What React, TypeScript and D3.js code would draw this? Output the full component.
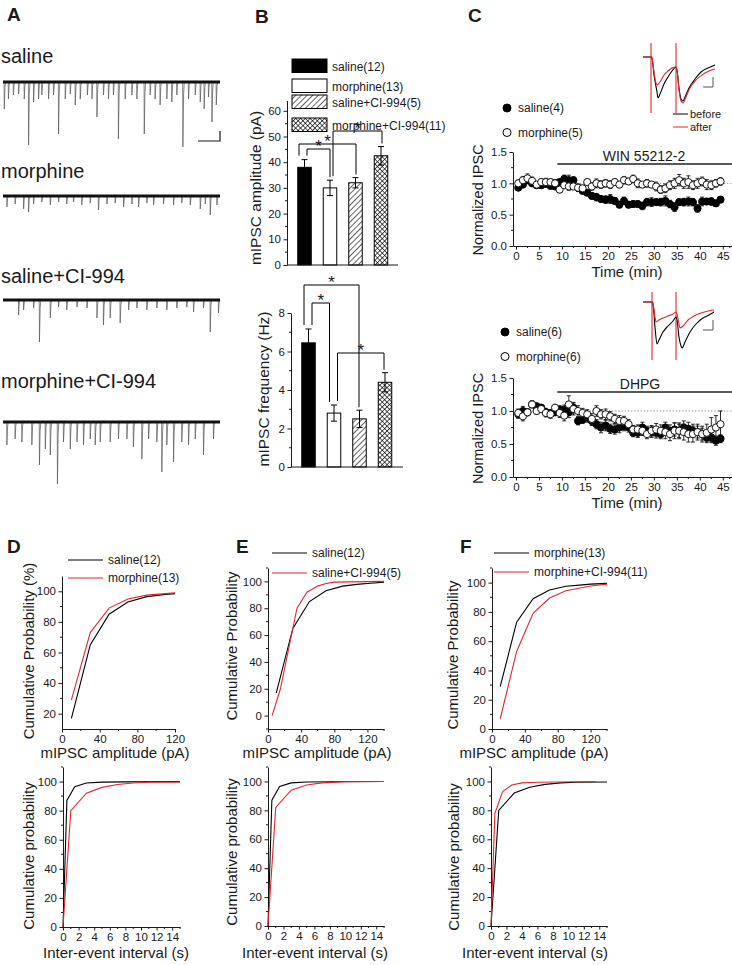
import React, { useEffect, useRef } from 'react';
import * as d3 from 'd3';

const FONT = '"Liberation Sans", Arial, Helvetica, sans-serif';
const INK = '#1a1a1a';
const RED = '#e3262d';

// ---- A: miniature events, [time (s), amplitude (pA)] ----
const traceLabels = ['saline', 'morphine', 'saline+CI-994', 'morphine+CI-994'];
const salineEvents = [
  [0.05, 54], [0.24, 34], [0.47, 26], [0.71, 24], [0.97, 34], [1.17, 126], [1.4, 40], [1.63, 34], [1.78, 26],
  [2.09, 34], [2.32, 26], [2.55, 104], [2.86, 34], [3.09, 24], [3.32, 46], [3.55, 34], [3.88, 26], [4.09, 34],
  [4.32, 70], [4.62, 26], [4.85, 34], [5.08, 26], [5.31, 114], [5.62, 34], [5.93, 26], [6.16, 34], [6.5, 104],
  [6.77, 26], [7.0, 34], [7.23, 46], [7.54, 34], [7.77, 40], [8.0, 26], [8.28, 130], [8.54, 34], [8.85, 26],
  [9.08, 40], [9.26, 54], [9.46, 30], [9.62, 80], [9.82, 46],
];
const morphineEvents = [
  [0.17, 22], [0.55, 16], [0.94, 26], [1.17, 32], [1.4, 16], [1.78, 12], [2.17, 18], [2.55, 12], [2.93, 16],
  [3.24, 12], [3.62, 18], [4.01, 14], [4.39, 28], [4.78, 16], [5.16, 14], [5.55, 22], [5.93, 16], [6.24, 22],
  [6.62, 14], [6.93, 18], [7.39, 16], [7.85, 18], [8.23, 14], [8.62, 18], [9.08, 26], [9.31, 16], [9.54, 38],
  [9.85, 18],
];
const salineCiEvents = [
  [0.71, 30], [0.94, 20], [1.4, 16], [1.67, 84], [2.17, 36], [2.55, 14], [2.93, 20], [3.4, 14], [3.86, 16],
  [4.32, 36], [4.62, 50], [4.93, 36], [5.39, 46], [5.78, 20], [6.16, 16], [6.62, 20], [7.08, 16], [7.54, 20],
  [8.0, 16], [8.46, 14], [8.77, 24], [9.23, 16], [9.54, 64], [9.92, 26],
];
const morphineCiEvents = [
  [0.17, 46], [0.55, 34], [0.86, 40], [1.32, 46], [1.67, 86], [1.94, 54], [2.17, 66], [2.5, 124], [2.78, 40],
  [3.09, 54], [3.4, 40], [3.7, 46], [4.01, 34], [4.24, 46], [4.47, 40], [4.93, 40], [5.31, 34], [5.7, 34],
  [6.0, 50], [6.39, 74], [6.7, 34], [7.08, 40], [7.31, 100], [7.54, 46], [7.85, 80], [8.23, 40], [8.54, 46],
  [8.85, 34], [9.23, 66], [9.69, 34],
];

// ---- B: group means ----
const groups = ['saline(12)', 'morphine(13)', 'saline+CI-994(5)', 'morphine+CI-994(11)'];
const ampMean = [38, 30, 32, 42.5];
const ampErr = [3, 3, 2, 3.6];
const freqMean = [6.45, 2.8, 2.5, 4.4];
const freqErr = [0.72, 0.42, 0.45, 0.5];
const ampPairs = [[0, 1], [0, 2], [1, 3]];
const freqPairs = [[0, 1], [0, 2], [1, 3]];

// ---- C: normalized IPSC time course (one point per minute) ----
const winSaline = [0.93, 0.98, 1.05, 1.0, 0.97, 0.97, 0.99, 0.96, 0.95, 1.02, 1.07, 1.05, 1.05, 0.93, 0.88, 0.85, 0.8,
  0.78, 0.75, 0.74, 0.75, 0.72, 0.66, 0.72, 0.66, 0.67, 0.67, 0.64, 0.7, 0.7, 0.7, 0.7, 0.72, 0.67, 0.62, 0.7, 0.7,
  0.71, 0.7, 0.6, 0.71, 0.71, 0.71, 0.68, 0.74];
const winSalineErr = [0.04, 0.05, 0.05, 0.04, 0.04, 0.05, 0.04, 0.05, 0.05, 0.05, 0.06, 0.08, 0.05, 0.05, 0.05, 0.04,
  0.05, 0.06, 0.05, 0.06, 0.07, 0.05, 0.05, 0.06, 0.05, 0.05, 0.05, 0.06, 0.06, 0.07, 0.05, 0.06, 0.08, 0.06, 0.07,
  0.05, 0.06, 0.07, 0.06, 0.06, 0.07, 0.05, 0.06, 0.05, 0.04];
const winMorphine = [1.0, 1.05, 1.08, 1.04, 0.98, 1.02, 1.02, 1.02, 1.0, 0.9, 0.97, 0.95, 0.95, 0.93, 0.92, 1.02, 0.95,
  1.0, 0.98, 1.0, 0.98, 1.02, 0.98, 1.05, 1.03, 1.07, 1.0, 0.98, 1.0, 0.98, 0.95, 0.9, 0.92, 0.97, 1.0, 1.05, 1.0,
  1.02, 0.97, 1.0, 1.03, 0.98, 0.97, 1.0, 1.03];
const winMorphineErr = [0.05, 0.06, 0.07, 0.06, 0.05, 0.05, 0.06, 0.05, 0.06, 0.05, 0.05, 0.06, 0.05, 0.06, 0.05, 0.05,
  0.06, 0.07, 0.06, 0.06, 0.06, 0.05, 0.05, 0.06, 0.05, 0.06, 0.07, 0.05, 0.06, 0.05, 0.07, 0.06, 0.07, 0.07, 0.08,
  0.09, 0.08, 0.1, 0.07, 0.08, 0.07, 0.08, 0.07, 0.06, 0.06];
const dhpgSaline = [0.95, 1.0, 0.98, 1.1, 1.07, 1.05, 0.98, 0.97, 0.98, 1.02, 1.02, 0.98, 1.05, 0.85, 0.87, 0.9, 0.85,
  0.8, 0.75, 0.78, 0.73, 0.72, 0.75, 0.77, 0.75, 0.67, 0.67, 0.75, 0.7, 0.68, 0.67, 0.65, 0.75, 0.7, 0.72, 0.7, 0.75,
  0.73, 0.7, 0.68, 0.65, 0.6, 0.6, 0.55, 0.58];
const dhpgSalineErr = [0.06, 0.07, 0.05, 0.05, 0.05, 0.05, 0.06, 0.05, 0.05, 0.06, 0.07, 0.08, 0.08, 0.06, 0.06, 0.07,
  0.07, 0.07, 0.08, 0.08, 0.07, 0.07, 0.08, 0.07, 0.07, 0.06, 0.07, 0.08, 0.07, 0.08, 0.08, 0.07, 0.08, 0.09, 0.1,
  0.1, 0.1, 0.1, 0.1, 0.09, 0.09, 0.08, 0.08, 0.07, 0.06];
const dhpgMorphine = [0.97, 0.92, 0.98, 1.1, 1.0, 1.03, 0.97, 0.95, 1.05, 0.97, 0.93, 1.1, 1.03, 1.0, 0.97, 0.95, 0.88,
  1.0, 0.95, 0.95, 0.92, 0.88, 0.85, 0.85, 0.8, 0.72, 0.72, 0.7, 0.65, 0.7, 0.72, 0.7, 0.68, 0.65, 0.7, 0.7, 0.68,
  0.65, 0.65, 0.68, 0.65, 0.67, 0.72, 0.75, 0.8];
const dhpgMorphineErr = [0.06, 0.07, 0.05, 0.05, 0.05, 0.05, 0.06, 0.06, 0.05, 0.07, 0.08, 0.13, 0.09, 0.08, 0.07,
  0.07, 0.08, 0.08, 0.07, 0.08, 0.07, 0.07, 0.08, 0.07, 0.07, 0.06, 0.07, 0.07, 0.07, 0.08, 0.09, 0.09, 0.1, 0.1,
  0.12, 0.12, 0.12, 0.12, 0.12, 0.12, 0.12, 0.13, 0.18, 0.18, 0.2];
const timeTicks = [0, 5, 10, 15, 20, 25, 30, 35, 40, 45];
const drugStart = 9;

// inset IPSC pairs, [time (ms), current]
const stimWin = [8, 33];
const winBefore = [[0, 0], [8, 0], [9, -1], [11, -18], [14, -35], [15, -41], [17, -37], [21, -27], [25, -20], [29, -14],
  [33, -10], [34, -13], [36, -31], [38, -42], [40, -44], [42, -40], [46, -31], [52, -22], [58, -15], [65, -11], [72, -8]];
const winAfter = [[0, 0], [8, 0], [9, -1], [11, -15], [13, -26], [14, -28], [17, -25], [21, -18], [25, -14], [29, -11],
  [33, -10], [34, -13], [36, -33], [38, -44], [40, -46], [43, -40], [47, -31], [53, -23], [59, -18], [66, -14], [72, -12]];
const stimDhpg = [9, 33];
const dhpgBefore = [[0, 0], [9, 0], [10, -2], [12, -25], [14, -42], [16, -38], [20, -30], [25, -24], [30, -19], [33, -15],
  [34, -18], [36, -35], [38, -44], [39, -46], [42, -40], [47, -30], [53, -22], [60, -16], [66, -13], [71, -10]];
const dhpgAfter = [[0, 0], [9, 0], [10, -2], [12, -15], [13, -20], [16, -18], [20, -16], [25, -14], [30, -12], [33, -10],
  [34, -12], [36, -22], [37, -26], [40, -24], [45, -18], [51, -14], [58, -11], [65, -9], [71, -8]];

// ---- D-F: cumulative distributions, [x, %] ----
const ampSaline = [[10, 17], [30, 65], [50, 85], [70, 93], [90, 96.5], [110, 98], [120, 98.5], [140, 99.5]];
const ampMorphine = [[10, 29], [30, 73], [50, 89], [70, 95], [90, 97.5], [110, 98.5], [120, 99], [140, 99.5]];
const ampSalineCi = [[5, 0], [15, 20], [25, 50], [35, 80], [47, 92], [60, 96.5], [70, 98.5], [80, 99.5], [140, 100]];
const ampMorphineCi = [[10, 7], [30, 53], [50, 79], [70, 89.5], [90, 94.5], [120, 97.7], [140, 99]];
const ieiSaline = [[0, 0], [0.5, 87], [1.5, 96.5], [3, 99], [5, 99.6], [8, 99.8], [15, 100]];
const ieiMorphine = [[0, 0], [1, 80], [3, 92], [5, 96], [7, 98], [9, 99], [11, 99.5], [15, 99.6]];
const ieiSalineCi = [[0, 0], [1, 82], [3, 94], [5, 97.5], [7, 99], [10, 99.8], [15, 100]];
const ieiMorphineCi = [[0, 0], [0.5, 78], [1.5, 93], [2.7, 97.5], [4, 99], [6, 99.5], [13.5, 100]];

function addText(g, x, y, s, size, anchor = 'start', rotate = false, weight = 'normal') {
  const t = g.append('text')
    .attr('font-family', FONT).attr('font-size', size).attr('font-weight', weight)
    .attr('fill', INK).attr('text-anchor', anchor).text(s);
  if (rotate) t.attr('transform', `translate(${x},${y}) rotate(-90)`);
  else t.attr('x', x).attr('y', y);
  return t;
}

function addAxis(g, scale, orient, pos, ticks, minor, fmt = d3.format('d')) {
  const ax = orient === 'left' ? d3.axisLeft(scale) : d3.axisBottom(scale);
  ax.tickValues(ticks).tickSizeInner(3.5).tickSizeOuter(0).tickPadding(2.5).tickFormat(fmt);
  const gg = g.append('g')
    .attr('transform', orient === 'left' ? `translate(${pos},0)` : `translate(0,${pos})`)
    .call(ax)
    .attr('font-family', FONT).attr('font-size', 11.5).attr('color', INK);
  gg.selectAll('.minor').data(minor).join('line').attr('class', 'minor').attr('stroke', INK)
    .attr('x1', (d) => (orient === 'left' ? 0 : scale(d))).attr('x2', (d) => (orient === 'left' ? -2 : scale(d)))
    .attr('y1', (d) => (orient === 'left' ? scale(d) : 0)).attr('y2', (d) => (orient === 'left' ? scale(d) : 2));
  return gg;
}

function drawTraces(svg) {
  const x = d3.scaleLinear().domain([0, 10]).range([3, 220]);
  const traces = [salineEvents, morphineEvents, salineCiEvents, morphineCiEvents];
  const baseY = [82, 196, 300, 422];
  const labelY = [63, 178, 283, 388];
  traces.forEach((ev, i) => {
    const y = d3.scaleLinear().domain([0, 100]).range([baseY[i], baseY[i] + 50]);
    addText(svg, 1, labelY[i], traceLabels[i], 20);
    const p = d3.path();
    ev.forEach(([t, a]) => {
      p.moveTo(x(t), y(0));
      p.lineTo(x(t) + 0.2, y(a));
      p.lineTo(x(t) + 0.9, y(a * 0.2));
      p.lineTo(x(t) + 1.6, y(0));
    });
    svg.append('path').attr('d', p.toString()).attr('fill', 'none').attr('stroke', '#555').attr('stroke-width', 0.7);
    svg.append('line').attr('x1', x(0)).attr('x2', x(10)).attr('y1', y(0)).attr('y2', y(0))
      .attr('stroke', '#111').attr('stroke-width', 3.2);
  });
  // scale bar
  svg.append('path').attr('d', 'M198,141H220V131').attr('fill', 'none').attr('stroke', INK).attr('stroke-width', 1.2);
}

function drawBars(svg) {
  const defs = svg.append('defs');
  const hatch = defs.append('pattern').attr('id', 'hatch').attr('width', 4).attr('height', 4)
    .attr('patternUnits', 'userSpaceOnUse').attr('patternTransform', 'rotate(45)');
  hatch.append('rect').attr('width', 4).attr('height', 4).attr('fill', '#fff');
  hatch.append('line').attr('x1', 0).attr('y1', 0).attr('x2', 0).attr('y2', 4).attr('stroke', '#000').attr('stroke-width', 1.2);
  const cross = defs.append('pattern').attr('id', 'cross').attr('width', 3.4).attr('height', 3.4)
    .attr('patternUnits', 'userSpaceOnUse').attr('patternTransform', 'rotate(45)');
  cross.append('rect').attr('width', 3.4).attr('height', 3.4).attr('fill', '#fff');
  cross.append('path').attr('d', 'M0,0V3.4M0,0H3.4').attr('stroke', '#000').attr('stroke-width', 1.3);
  const fills = ['#000', '#fff', 'url(#hatch)', 'url(#cross)'];

  // legend
  const legY = [59, 79, 95, 118];
  groups.forEach((name, i) => {
    svg.append('rect').attr('x', 292).attr('y', legY[i]).attr('width', 35).attr('height', 13.5)
      .attr('fill', fills[i]).attr('stroke', '#000').attr('stroke-width', 1);
    addText(svg, 332, legY[i] + 11.5, name, 12);
  });

  const charts = [
    { mean: ampMean, err: ampErr, pairs: ampPairs, y: d3.scaleLinear().domain([0, 64]).range([265, 100.5]),
      axisX: 287, axisEnd: 398, centers: [304.5, 381], ticks: d3.range(0, 61, 10), minor: d3.range(5, 60, 10),
      levels: [149, 144, 131], legs: [[2.5, 0], [-5.5, 0.5], [3, 1]], title: 'mIPSC amplitude (pA)', tx: 261, ty: 188 },
    { mean: freqMean, err: freqErr, pairs: freqPairs, y: d3.scaleLinear().domain([0, 8]).range([467, 313]),
      axisX: 291, axisEnd: 403, centers: [308.5, 385], ticks: [0, 2, 4, 6, 8], minor: [1, 3, 5, 7],
      levels: [303, 285, 353], legs: [[3.5, -4.5], [-4.5, -0.5], [3.5, -1]], title: 'mIPSC frequency (Hz)', tx: 269, ty: 389 },
  ];
  charts.forEach((c) => {
    const x = d3.scalePoint().domain(groups).range(c.centers);
    const g = svg.append('g');
    g.selectAll('.bar').data(c.mean).join('rect').attr('class', 'bar')
      .attr('x', (d, i) => x(groups[i]) - 6.75).attr('width', 13.5)
      .attr('y', (d) => c.y(d)).attr('height', (d) => c.y(0) - c.y(d))
      .attr('fill', (d, i) => fills[i]).attr('stroke', '#000').attr('stroke-width', 1);
    const p = d3.path();
    c.mean.forEach((m, i) => {
      const cx = x(groups[i]);
      p.moveTo(cx, c.y(m - c.err[i])); p.lineTo(cx, c.y(m + c.err[i]));
      p.moveTo(cx - 3, c.y(m + c.err[i])); p.lineTo(cx + 3, c.y(m + c.err[i]));
      p.moveTo(cx - 3, c.y(m - c.err[i])); p.lineTo(cx + 3, c.y(m - c.err[i]));
    });
    g.append('path').attr('d', p.toString()).attr('stroke', '#000').attr('stroke-width', 1).attr('fill', 'none');
    // bottom line
    g.append('line').attr('x1', c.axisX).attr('x2', c.axisEnd).attr('y1', c.y(0)).attr('y2', c.y(0)).attr('stroke', INK);
    addAxis(g, c.y, 'left', c.axisX, c.ticks, c.minor);
    addText(g, c.tx, c.ty, c.title, 15.5, 'middle', true);
    // significance brackets
    c.pairs.forEach(([a, b], k) => {
      const xa = x(groups[a]) + c.legs[k][0];
      const xb = x(groups[b]) + c.legs[k][1];
      const L = c.levels[k];
      const ya = c.y(c.mean[a] + c.err[a]) - 4;
      const yb = c.y(c.mean[b] + c.err[b]) - 3;
      g.append('path').attr('d', `M${xa},${ya}V${L}H${xb}V${yb}`).attr('fill', 'none').attr('stroke', '#000').attr('stroke-width', 1);
      addText(g, (xa + xb) / 2, L + 3, '*', 17, 'middle');
    });
  });
}

function drawInset(svg, before, after, stims, ox, oy, legend) {
  const x = d3.scaleLinear().domain([0, 72]).range([ox, ox + 72]);
  const y = d3.scaleLinear().domain([0, -60]).range([oy, oy + 60]);
  const line = d3.line().x((d) => x(d[0])).y((d) => y(d[1])).curve(d3.curveMonotoneX);
  stims.forEach((s) => {
    svg.append('line').attr('x1', x(s)).attr('x2', x(s)).attr('y1', y(legend ? 14 : 10)).attr('y2', y(legend ? -56 : -58))
      .attr('stroke', RED).attr('stroke-width', 1.1);
  });
  svg.append('path').datum(before).attr('d', line).attr('fill', 'none').attr('stroke', '#000').attr('stroke-width', 1.1);
  svg.append('path').datum(after).attr('d', line).attr('fill', 'none').attr('stroke', RED).attr('stroke-width', 1.1);
  const sb = oy + (legend ? 30 : 28);
  svg.append('path').attr('d', `M703,${sb}H713V${sb - 10}`).attr('fill', 'none').attr('stroke', '#555').attr('stroke-width', 1);
  if (legend) {
    svg.append('line').attr('x1', 673).attr('x2', 688).attr('y1', 114).attr('y2', 114).attr('stroke', '#000');
    svg.append('line').attr('x1', 673).attr('x2', 688).attr('y1', 127).attr('y2', 127).attr('stroke', RED);
    addText(svg, 690, 118, 'before', 11);
    addText(svg, 690, 131, 'after', 11);
  }
}

function drawTimeCourse(svg, cfg) {
  const x = d3.scaleLinear().domain([-0.65, 47]).range([513, 732]);
  const y = d3.scaleLinear().domain([0, 1.5]).range([cfg.y0, cfg.y15]);
  const g = svg.append('g');
  g.append('line').attr('x1', x(0)).attr('x2', 732).attr('y1', y(1)).attr('y2', y(1))
    .attr('stroke', '#888').attr('stroke-width', 1).attr('stroke-dasharray', '1.2,2');
  addAxis(g, y, 'left', 513, [0, 0.5, 1, 1.5], [0.25, 0.75, 1.25], d3.format('.1f'));
  addAxis(g, x, 'bottom', cfg.y0, timeTicks, [2.5, 7.5, 12.5, 17.5, 22.5, 27.5, 32.5, 37.5, 42.5, 46.5]);
  // drug bar
  g.append('line').attr('x1', x(drugStart)).attr('x2', 732).attr('y1', cfg.barY).attr('y2', cfg.barY)
    .attr('stroke', '#222').attr('stroke-width', 1.6);
  addText(g, cfg.drugX, cfg.barY - 3.5, cfg.drug, 14, 'middle');
  addText(g, 627, cfg.y0 + 31, 'Time (min)', 15, 'middle');
  addText(g, 483, (cfg.y0 + cfg.y15) / 2 + 1, 'Normalized IPSC', 14.5, 'middle', true);

  cfg.series.forEach((s) => {
    const p = d3.path();
    s.mean.forEach((m, i) => {
      const cx = x(i + 0.5);
      p.moveTo(cx, y(m - s.err[i])); p.lineTo(cx, y(m + s.err[i]));
      p.moveTo(cx - 2, y(m + s.err[i])); p.lineTo(cx + 2, y(m + s.err[i]));
      p.moveTo(cx - 2, y(m - s.err[i])); p.lineTo(cx + 2, y(m - s.err[i]));
    });
    g.append('path').attr('d', p.toString()).attr('stroke', '#111').attr('stroke-width', 0.9).attr('fill', 'none');
    g.selectAll(null).data(s.mean).join('circle')
      .attr('cx', (d, i) => x(i + 0.5)).attr('cy', (d) => y(d)).attr('r', 3.6)
      .attr('fill', s.fill).attr('stroke', '#000').attr('stroke-width', 0.9);
  });
  // legend
  cfg.series.forEach((s, i) => {
    const ly = cfg.legY + i * 24.5;
    g.append('circle').attr('cx', cfg.legX).attr('cy', ly).attr('r', 4).attr('fill', s.fill).attr('stroke', '#000');
    addText(g, cfg.legX + 11, ly + 4, s.name, 12);
  });
}

function drawCdf(svg, c) {
  const x = d3.scaleLinear().domain(c.xDomain).range(c.xRange);
  const y = d3.scaleLinear().domain(c.yDomain).range(c.yRange);
  const g = svg.append('g');
  addAxis(g, y, 'left', c.xRange[0], c.yTicks, c.yMinor);
  addAxis(g, x, 'bottom', c.yRange[0], c.xTicks, c.xMinor);
  const line = d3.line().x((d) => x(d[0])).y((d) => y(d[1]));
  c.series.forEach((s) => {
    const pts = s.data.filter((d) => d[0] <= c.xDomain[1]);
    g.append('path').datum(pts).attr('d', line).attr('fill', 'none').attr('stroke', s.color).attr('stroke-width', 1.1);
  });
  if (c.legend) {
    c.series.forEach((s, i) => {
      const ly = c.legend.ys[i];
      g.append('line').attr('x1', c.legend.x).attr('x2', c.legend.x + 35).attr('y1', ly).attr('y2', ly).attr('stroke', s.color);
      addText(g, c.legend.x + 40, ly + 4, s.name, 12);
    });
  }
  addText(g, c.xlx, c.xly, c.xLabel, 15, 'middle');
  addText(g, c.ylx, c.yly, c.yLabel, 15, 'middle', true);
}

function App() {
  const ref = useRef(null);

  useEffect(() => {
    if (!ref.current) return;
    const svg = d3.select(ref.current);
    svg.selectAll('*').remove();
    svg.append('rect').attr('width', 732).attr('height', 965).attr('fill', '#fff');

    // panel letters
    [['A', 7, 21], ['B', 255, 23], ['C', 468, 22], ['D', 7, 553], ['E', 236, 553], ['F', 460, 553]].forEach(([s, x, y]) =>
      addText(svg, x, y, s, 19, 'start', false, 'bold'));

    drawTraces(svg);
    drawBars(svg);

    drawInset(svg, winBefore, winAfter, stimWin, 643, 57, true);
    drawInset(svg, dhpgBefore, dhpgAfter, stimDhpg, 643, 302, false);
    drawTimeCourse(svg, {
      y0: 246, y15: 152, barY: 164, drug: 'WIN 55212-2', drugX: 644, legX: 507, legY: 108,
      series: [
        { name: 'saline(4)', mean: winSaline, err: winSalineErr, fill: '#000' },
        { name: 'morphine(5)', mean: winMorphine, err: winMorphineErr, fill: '#fff' },
      ],
    });
    drawTimeCourse(svg, {
      y0: 477, y15: 378, barY: 392, drug: 'DHPG', drugX: 640, legX: 505, legY: 332,
      series: [
        { name: 'saline(6)', mean: dhpgSaline, err: dhpgSalineErr, fill: '#000' },
        { name: 'morphine(6)', mean: dhpgMorphine, err: dhpgMorphineErr, fill: '#fff' },
      ],
    });

    const ampTicks = { xTicks: [0, 40, 80, 120], yTicks: [0, 20, 40, 60, 80, 100], xLabel: 'mIPSC amplitude (pA)', xly: 758 };
    const ieiTicks = { xDomain: [0, 15], xTicks: [0, 2, 4, 6, 8, 10, 12, 14], xMinor: [1, 3, 5, 7, 9, 11, 13, 15],
      yDomain: [0, 110], yTicks: [0, 20, 40, 60, 80, 100], yMinor: [10, 30, 50, 70, 90, 110], xLabel: 'Inter-event interval (s)',
      yLabel: 'Cumulative probability', xly: 958 };

    drawCdf(svg, { ...ampTicks, xDomain: [0, 120], xRange: [62, 175], yDomain: [10, 110], yRange: [729, 576],
      yTicks: [20, 40, 60, 80, 100], yMinor: [30, 50, 70, 90], xMinor: [20, 60, 100],
      series: [{ data: ampSaline, color: '#000', name: 'saline(12)' }, { data: ampMorphine, color: RED, name: 'morphine(13)' }],
      legend: { x: 68, ys: [560, 578] }, xlx: 115, yLabel: 'Cumulative Probability (%)', ylx: 34, yly: 651 });
    drawCdf(svg, { ...ampTicks, xDomain: [0, 140], xRange: [268, 384], yDomain: [-10, 110], yRange: [729, 568],
      xMinor: [20, 60, 100, 140], yMinor: [-10, 10, 30, 50, 70, 90, 110],
      series: [{ data: ampSaline, color: '#000', name: 'saline(12)' }, { data: ampSalineCi, color: RED, name: 'saline+CI-994(5)' }],
      legend: { x: 272, ys: [553, 573] }, xlx: 317, yLabel: 'Cumulative Probability', ylx: 237, yly: 646 });
    drawCdf(svg, { ...ampTicks, xDomain: [0, 140], xRange: [492, 607], yDomain: [0, 110], yRange: [729, 568],
      xMinor: [20, 60, 100, 140], yMinor: [10, 30, 50, 70, 90, 110],
      series: [{ data: ampMorphine, color: '#000', name: 'morphine(13)' }, { data: ampMorphineCi, color: RED, name: 'morphine+CI-994(11)' }],
      legend: { x: 494, ys: [553, 572] }, xlx: 534, yLabel: 'Cumulative Probability', ylx: 458, yly: 655 });

    drawCdf(svg, { ...ieiTicks, xRange: [63, 180], yRange: [927, 767],
      series: [{ data: ieiSaline, color: '#000' }, { data: ieiMorphine, color: RED }], xlx: 116, ylx: 34, yly: 856 });
    drawCdf(svg, { ...ieiTicks, xRange: [268, 384], yRange: [926, 767],
      series: [{ data: ieiSaline, color: '#000' }, { data: ieiSalineCi, color: RED }], xlx: 315, ylx: 237, yly: 852 });
    drawCdf(svg, { ...ieiTicks, xRange: [491, 607], yRange: [926, 767],
      series: [{ data: ieiMorphine, color: '#000' }, { data: ieiMorphineCi, color: RED }], xlx: 535, ylx: 459, yly: 857 });
  }, []);

  return <svg ref={ref} width={732} height={965} style={{ position: 'absolute', left: 0, top: 0 }} />;
}

export default App;
